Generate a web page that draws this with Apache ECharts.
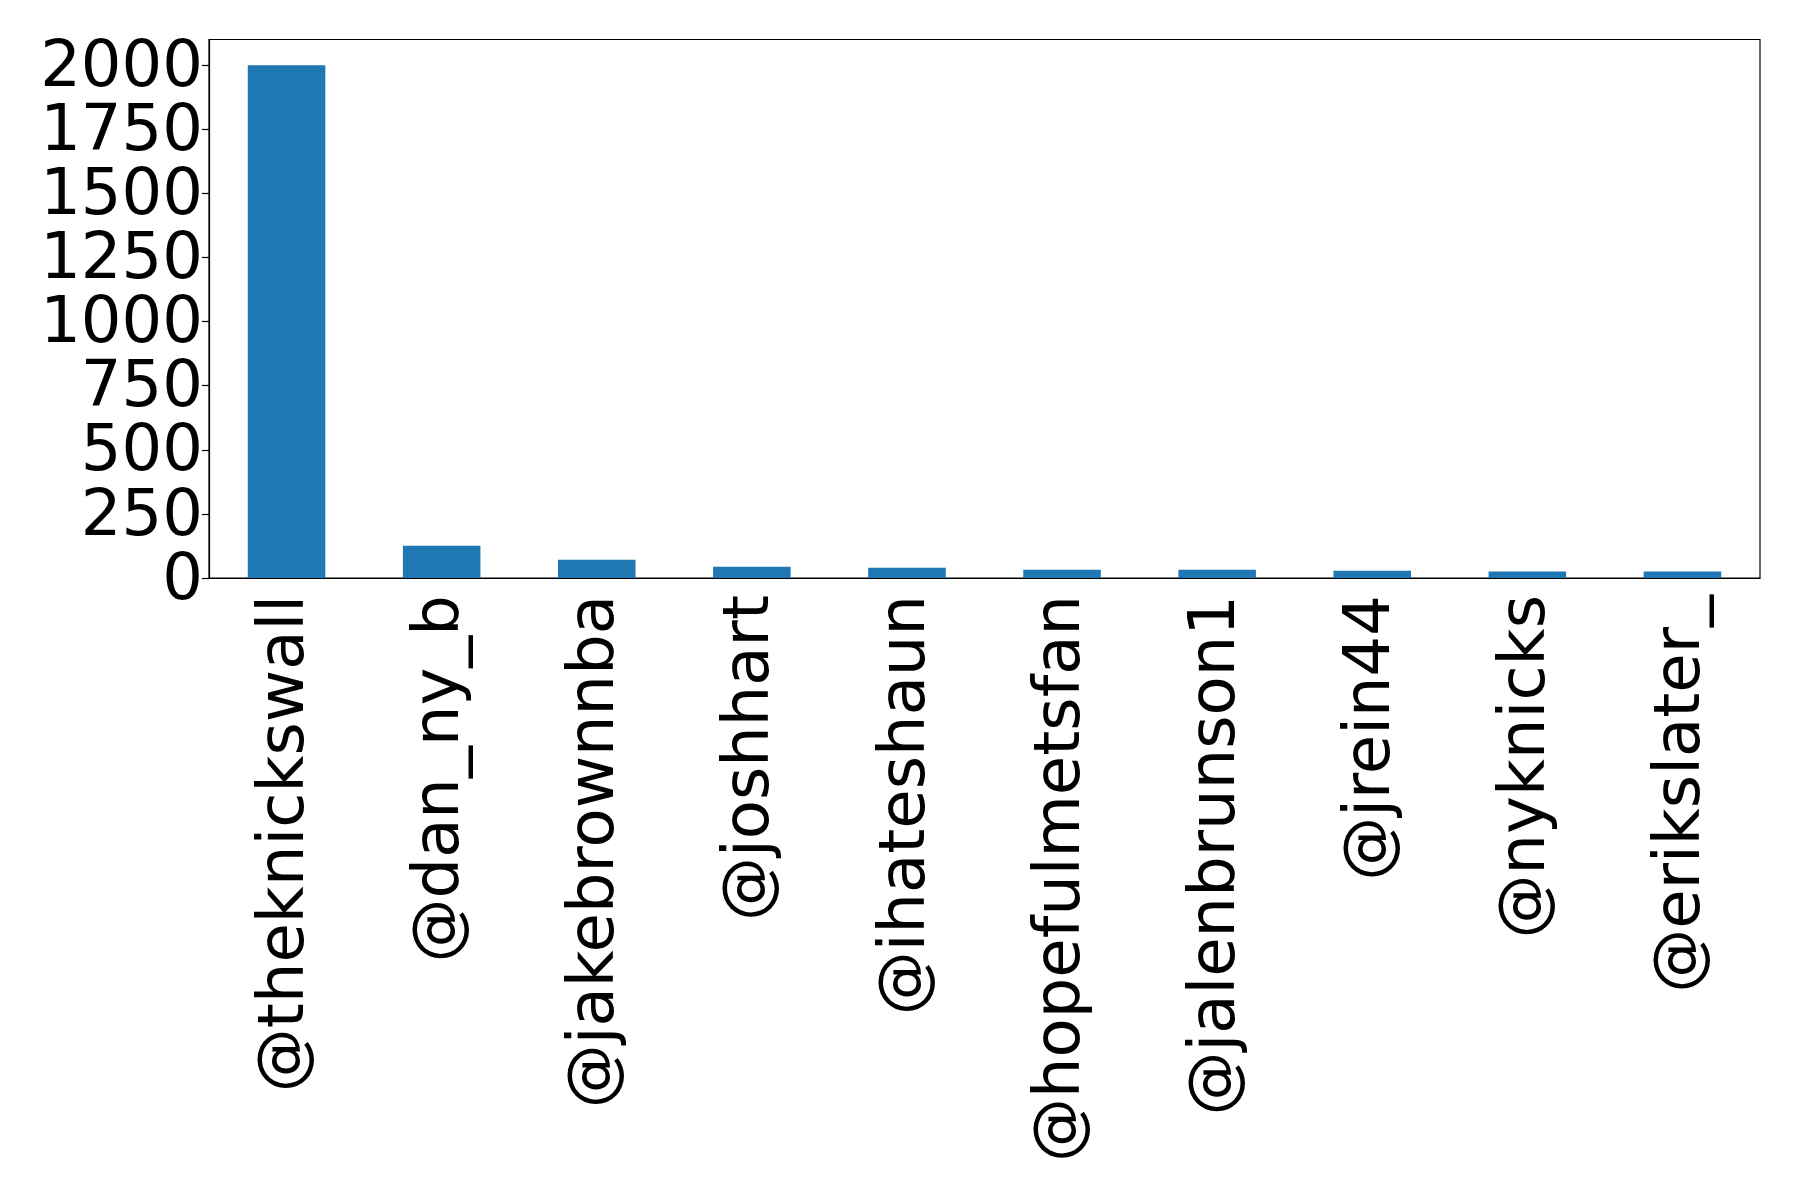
<!DOCTYPE html>
<html><head><meta charset="utf-8">
<script src="https://cdn.jsdelivr.net/npm/echarts@6/dist/echarts.min.js"></script>
<style>html,body{margin:0;padding:0;background:#fff}#c{width:1798px;height:1181px}</style>
</head><body><div id="c"></div>
<script>
const categories = ['@theknickswall','@dan_ny_b','@jakebrownnba','@joshhart','@ihateshaun','@hopefulmetsfan','@jalenbrunson1','@jrein44','@nyknicks','@erikslater_'];
const counts = [2000, 126, 71, 44, 40, 32, 32, 28, 25, 25];
const yTicks = [0, 250, 500, 750, 1000, 1250, 1500, 1750, 2000];

const chart = echarts.init(document.getElementById('c'), null, {renderer:'canvas'});
const font = 'DejaVu Sans';
chart.setOption({
  animation:false,
  grid:{left:209, right:38, top:39.5, bottom:603, show:true, borderColor:'#000', borderWidth:1.2, backgroundColor:'#fff', containLabel:false},
  xAxis:{type:'category', data:categories,
    axisLine:{lineStyle:{color:'#000', width:1.2}},
    axisTick:{alignWithLabel:true, length:7, lineStyle:{color:'#000', width:1.2}},
    axisLabel:{rotate:90, fontFamily:font, fontSize:64, color:'#000', margin:17, interval:0}
  },
  yAxis:{type:'value', min:0, max:2100,
    splitLine:{show:false},
    axisLine:{show:true, lineStyle:{color:'#000', width:1.2}},
    axisTick:{show:true, length:7, customValues:yTicks, lineStyle:{color:'#000', width:1.2}},
    axisLabel:{customValues:yTicks, formatter:(v)=>'{a|' + v + '}', color:'#000', margin:6,
      rich:{a:{fontFamily:font, fontSize:64, color:'#000', padding:[8,0,0,0]}}}
  },
  series:[{type:'bar', data:counts, barWidth:'50%', itemStyle:{color:'#1f77b4'}}]
});
</script></body></html>
